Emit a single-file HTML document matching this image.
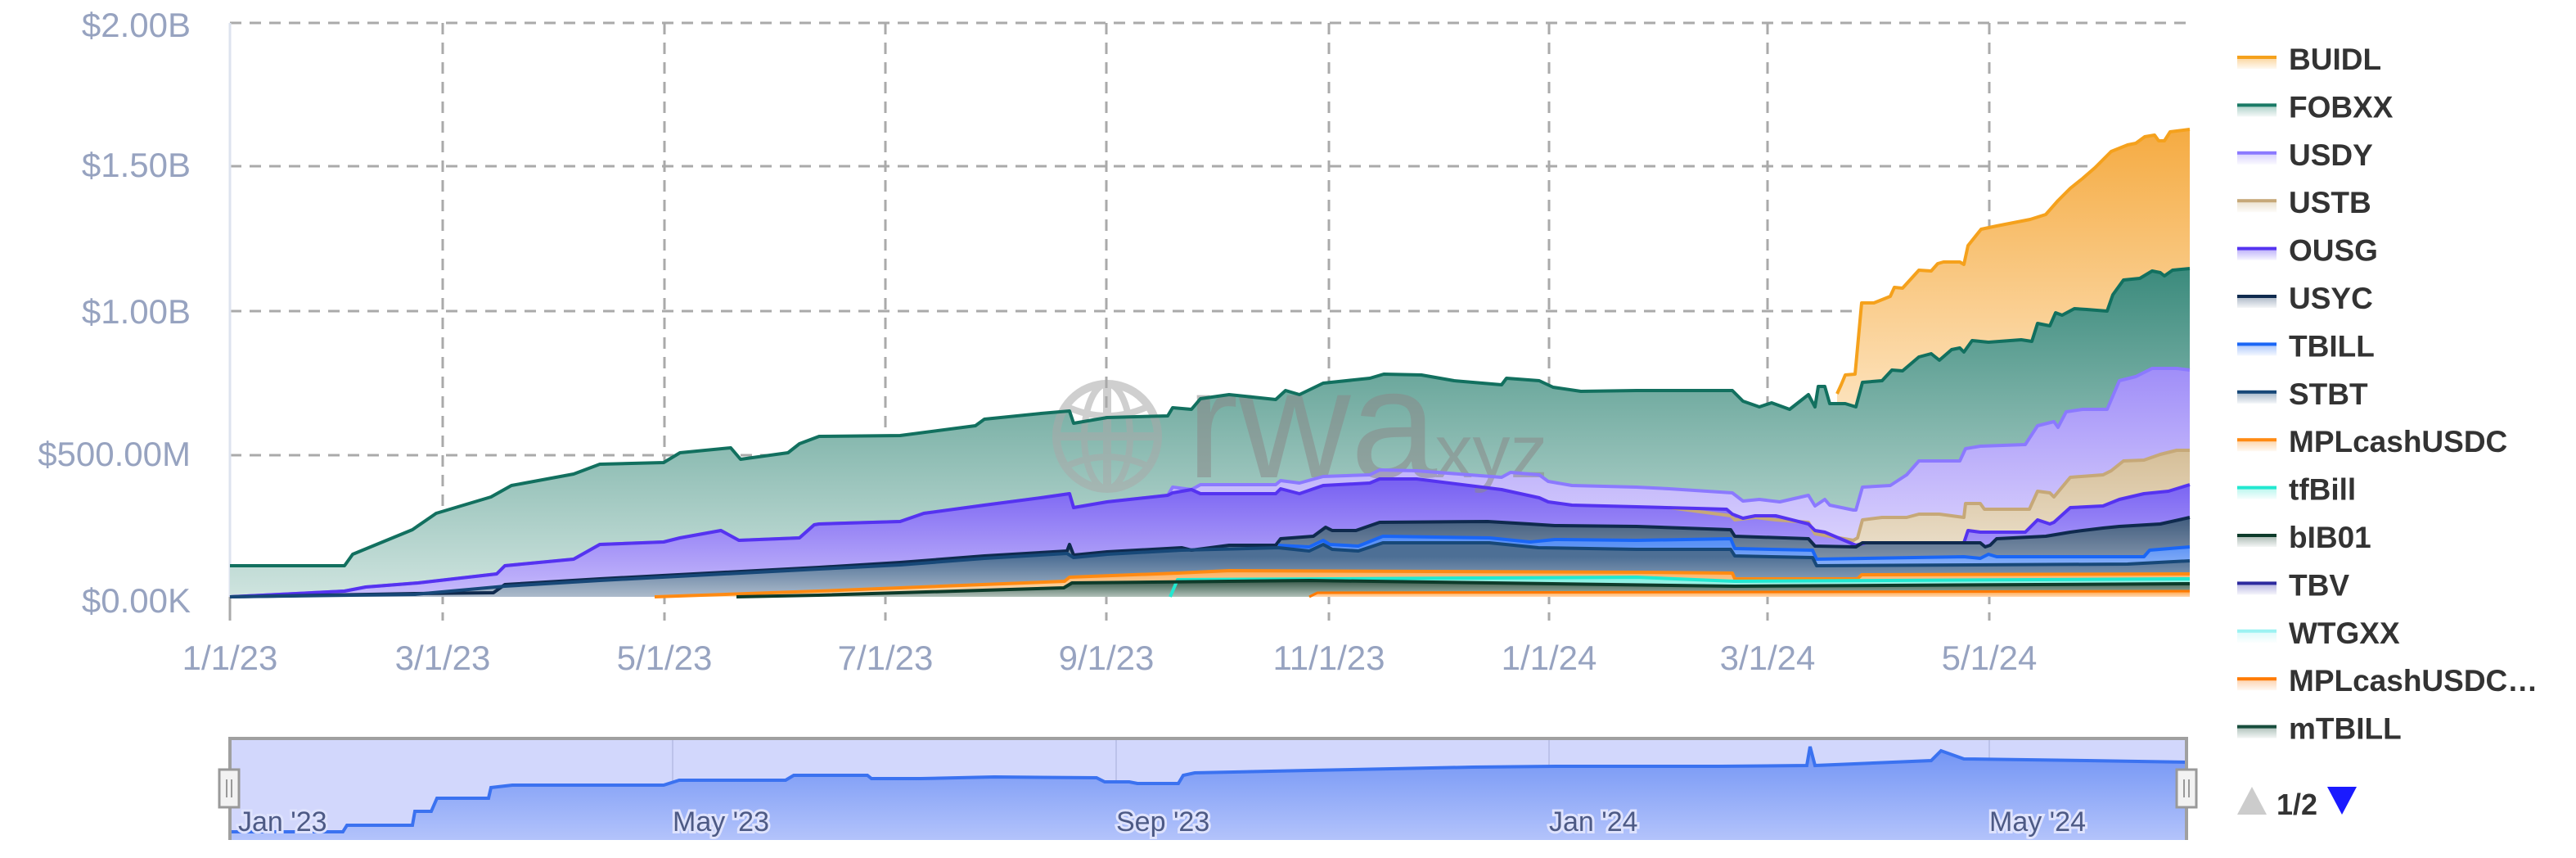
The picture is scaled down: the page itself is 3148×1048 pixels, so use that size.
<!DOCTYPE html>
<html><head><meta charset="utf-8">
<style>
html,body{margin:0;padding:0;background:#fff;}
svg{display:block;}
</style></head>
<body>
<svg id="s" width="3148" height="1048" viewBox="0 0 3148 1048" xmlns="http://www.w3.org/2000/svg" font-family="Liberation Sans, sans-serif">
<defs id="d"></defs>
<g id="grid"></g>
<g id="areas"></g>
<g id="wm" opacity="0.55">
  <ellipse cx="1353" cy="533" rx="62" ry="64" fill="none" stroke="#a9a9a9" stroke-width="10"/>
  <line x1="1353" y1="469" x2="1353" y2="597" stroke="#a9a9a9" stroke-width="10"/>
  <line x1="1291" y1="533" x2="1415" y2="533" stroke="#a9a9a9" stroke-width="10"/>
  <ellipse cx="1353" cy="533" rx="28" ry="64" fill="none" stroke="#a9a9a9" stroke-width="8"/>
  <path d="M1302 496 Q1353 520 1404 496 M1302 570 Q1353 546 1404 570" fill="none" stroke="#a9a9a9" stroke-width="8"/>
  <text x="1450" y="583" font-size="190" fill="#8a8a8a">rwa</text>
  <text x="1728" y="583" font-size="92" fill="#8a8a8a">.xyz</text>
</g>
<g id="lines"></g>
<g id="axis" fill="#97a3c0" font-size="42"></g>
<g id="nav"></g>
<g id="legend"></g>
</svg>
<script>
var NS="http://www.w3.org/2000/svg";
function el(t,a,p,txt){var e=document.createElementNS(NS,t);for(var k in a)e.setAttribute(k,a[k]);if(txt!==undefined)e.textContent=txt;(p||document.getElementById('s')).appendChild(e);return e;}
var D=document.getElementById('d'),G=document.getElementById('grid'),A=document.getElementById('areas'),L=document.getElementById('lines'),AX=document.getElementById('axis'),N=document.getElementById('nav'),LG=document.getElementById('legend');
var X0=281,X1=2676,Y0=729;
// grid
[28,203,380,556].forEach(function(y){el('line',{x1:X0,y1:y,x2:X1,y2:y,stroke:'#aaa','stroke-width':3,'stroke-dasharray':'14 10'},G);});
var xt=[[281,'1/1/23'],[541,'3/1/23'],[812,'5/1/23'],[1082,'7/1/23'],[1352,'9/1/23'],[1624,'11/1/23'],[1893,'1/1/24'],[2160,'3/1/24'],[2431,'5/1/24']];
xt.forEach(function(t,i){ if(i>0) el('line',{x1:t[0],y1:28,x2:t[0],y2:758,stroke:'#aaa','stroke-width':3,'stroke-dasharray':'14 10'},G);
 else el('line',{x1:t[0],y1:729,x2:t[0],y2:758,stroke:'#aaa','stroke-width':3},G);
 el('text',{x:t[0],y:818,'text-anchor':'middle'},AX,t[1]);});
el('line',{x1:281,y1:28,x2:281,y2:729,stroke:'#dde3ef','stroke-width':3},G);
[[45,'$2.00B'],[216,'$1.50B'],[395,'$1.00B'],[569,'$500.00M'],[748,'$0.00K']].forEach(function(t){el('text',{x:233,y:t[0],'text-anchor':'end'},AX,t[1]);});

function grad(id,y1,y2,c1,c2){var g=el('linearGradient',{id:id,gradientUnits:'userSpaceOnUse',x1:0,y1:y1,x2:0,y2:y2},D);el('stop',{offset:0,'stop-color':c1},g);el('stop',{offset:1,'stop-color':c2},g);}
function series(pts,id,stroke,y1,y2,c1,c2,sw){
 grad(id,y1,y2,c1,c2);
 var d='M'+pts[0][0]+' '+Y0+' '+pts.map(function(p){return 'L'+p[0]+' '+p[1];}).join(' ')+' L'+pts[pts.length-1][0]+' '+Y0+' Z';
 el('path',{d:d,fill:'url(#'+id+')'},A);
 el('path',{d:'M'+pts.map(function(p){return p[0]+' '+p[1];}).join(' L'),fill:'none',stroke:stroke,'stroke-width':sw||4,'stroke-linejoin':'round'},L);
}
var BUIDL=[[2245,481],[2250,470],[2255,458],[2267,457],[2275,370],[2290,370],[2300,366],[2310,362],[2315,351],[2325,352],[2345,330],[2360,331],[2368,322],[2375,320],[2395,320],[2400,323],[2405,300],[2421,280],[2440,276],[2481,268],[2500,262],[2515,245],[2530,230],[2545,218],[2560,205],[2580,185],[2600,177],[2610,175],[2621,167],[2633,165],[2638,172],[2645,172],[2652,161],[2676,158]];
var FOBXX=[[281,691],[421,691],[431,677],[504,647],[533,627],[600,607],[625,593],[701,579],[733,567],[811,565],[831,553],[893,547],[905,561],[963,553],[977,542],[1001,533],[1100,532],[1192,520],[1203,512],[1272,505],[1307,502],[1312,517],[1353,510],[1427,508],[1433,498],[1456,500],[1467,487],[1502,482],[1559,488],[1571,477],[1588,482],[1617,468],[1674,462],[1691,457],[1737,458],[1777,465],[1835,470],[1841,462],[1881,465],[1898,473],[1932,478],[2000,477],[2117,477],[2130,490],[2150,497],[2165,492],[2187,500],[2210,482],[2218,497],[2222,472],[2230,472],[2236,493],[2255,493],[2268,497],[2276,467],[2300,465],[2312,452],[2325,453],[2345,436],[2360,432],[2370,440],[2385,427],[2395,425],[2400,430],[2410,416],[2430,418],[2470,415],[2483,417],[2490,395],[2505,398],[2512,382],[2520,385],[2535,377],[2550,378],[2575,380],[2582,360],[2595,342],[2615,340],[2630,331],[2640,333],[2645,337],[2655,330],[2676,328]];
var OUSGL=[[281,729],[421,722],[447,717],[511,712],[607,701],[617,691],[701,683],[733,665],[811,662],[831,657],[881,648],[903,660],[977,657],[995,641],[1001,640],[1100,637],[1129,627],[1203,617],[1272,608],[1307,603],[1312,620],[1353,613],[1427,605]];
var USDY=OUSGL.concat([[1433,595],[1456,598],[1467,592],[1559,592],[1565,587],[1588,590],[1617,582],[1674,580],[1686,574],[1731,575],[1835,583],[1846,577],[1881,580],[1892,588],[1921,593],[2000,595],[2040,597],[2117,602],[2130,612],[2150,610],[2175,613],[2210,605],[2218,618],[2230,610],[2236,617],[2265,623],[2268,623],[2276,595],[2310,593],[2330,580],[2345,563],[2395,563],[2402,548],[2420,545],[2475,543],[2490,520],[2510,515],[2515,522],[2525,503],[2545,500],[2575,500],[2590,465],[2610,460],[2630,450],[2660,450],[2676,452]]);
var OUSG=OUSGL.concat([[1433,602],[1456,598],[1467,603],[1559,603],[1565,597],[1588,603],[1617,593],[1674,590],[1686,585],[1731,585],[1835,598],[1881,608],[1892,613],[1921,617],[2000,619],[2110,622],[2117,628],[2130,633],[2145,630],[2170,630],[2210,640],[2218,648],[2230,650],[2268,666],[2280,663],[2400,663],[2405,648],[2420,650],[2475,650],[2490,635],[2505,640],[2510,638],[2530,620],[2570,618],[2590,610],[2620,603],[2650,600],[2676,592]]);
var USTB=[[2040,620],[2115,630],[2120,635],[2145,632],[2170,635],[2210,638],[2218,652],[2236,655],[2265,660],[2270,657],[2276,635],[2300,632],[2330,632],[2345,628],[2370,628],[2400,632],[2402,615],[2420,615],[2425,622],[2480,622],[2490,600],[2505,602],[2510,607],[2520,595],[2530,583],[2570,580],[2580,575],[2595,563],[2620,562],[2640,555],[2660,550],[2676,550]];
var USYC=[[281,729],[507,725],[603,724],[617,714],[733,707],[1001,693],[1100,687],[1203,679],[1304,673],[1307,665],[1312,678],[1353,674],[1444,669],[1456,672],[1502,666],[1559,666],[1565,658],[1605,655],[1620,644],[1628,648],[1657,648],[1686,638],[1818,637],[1869,640],[1900,642],[2000,643],[2115,647],[2120,655],[2210,658],[2218,667],[2268,668],[2276,663],[2420,663],[2426,668],[2432,666],[2440,658],[2500,655],[2530,650],[2545,648],[2570,645],[2590,643],[2640,640],[2676,632]];
var TBILL=[[1562,666],[1600,668],[1617,660],[1625,665],[1660,667],[1690,655],[1820,657],[1870,662],[1900,659],[2000,660],[2115,658],[2120,670],[2215,672],[2220,683],[2400,680],[2420,682],[2430,677],[2440,680],[2620,680],[2627,672],[2676,668]];
var STBT=[[281,729],[507,726],[617,716],[733,709],[1001,695],[1100,690],[1203,682],[1304,676],[1312,681],[1353,677],[1444,672],[1562,669],[1600,673],[1617,665],[1628,671],[1660,673],[1690,663],[1820,663],[1880,669],[2000,671],[2115,671],[2120,679],[2215,681],[2220,691],[2600,689],[2676,685]];
var MPL=[[800,729],[1000,722],[1100,718],[1301,710],[1307,705],[1439,700],[1502,697],[2000,699],[2117,700],[2120,707],[2270,707],[2275,702],[2676,701]];
var TF=[[1430,729],[1439,708],[2000,705],[2120,710],[2676,707]];
var BIB=[[900,729],[1000,727],[1300,718],[1310,712],[1600,709],[2120,716],[2676,713]];
var LOW=[[1600,729],[1610,724],[2676,722]];
series(BUIDL,'gB','#f5a11c',158,520,'#f5ab42','#fde6c4');
series(FOBXX,'gF','#12705f',330,729,'#3c8b7d','#cfe4df');
series(USDY,'gU','#8b79ff',450,729,'#a08ef8','#ebe6fe');
series(USTB,'gT','#c6a878',550,729,'#d6bf98','#f3ece0');
series(OUSG,'gO','#5533f0',585,729,'#7760f2','#c8bcfb');
series(USYC,'gY','#0f2a4e',630,729,'#3e5a7c','#b9c3d0');
series(TBILL,'gI','#1a66f5',665,729,'#5b92f5','#c8dafb');
series(STBT,'gS','#174878',680,729,'#4d6f95','#adbbcb');
series(MPL,'gM','#ff8a12',697,729,'#fbb062','#fde2c0');
series(TF,'gC','#22e8d0',705,729,'#7ff0e0','#d0f8f2');
series(BIB,'gD','#0d3b2a',710,729,'#3d5e4f','#b0c0b8');
series(LOW,'gL','#ff7a00',722,729,'#ffa040','#ffd8b0',3);
// navigator
el('rect',{x:281,y:902,width:2391,height:124,fill:'#d2d7fc'},N);
[822,1364,1893,2431].forEach(function(x){el('line',{x1:x,y1:902,x2:x,y2:1026,stroke:'#bcc2ea','stroke-width':2},N);});
var nv=[[283,1016],[419,1016],[424,1008],[504,1008],[507,991],[527,991],[534,975],[597,975],[600,962],[626,959],[811,959],[830,953],[960,953],[970,947],[1060,947],[1065,951],[1125,951],[1215,949],[1340,950],[1350,955],[1380,955],[1390,957],[1440,957],[1446,947],[1460,944],[1600,941],[1700,939],[1800,937],[1900,936],[2100,936],[2208,935],[2212,912],[2218,935],[2360,929],[2372,917],[2400,927],[2550,929],[2672,931]];
grad('gN',910,1026,'#6f92f4','#b3c3fb');
el('path',{d:'M283 1026 L'+nv.map(function(p){return p.join(' ');}).join(' L')+' L2672 1026 Z',fill:'url(#gN)'},N);
el('path',{d:'M'+nv.map(function(p){return p.join(' ');}).join(' L'),fill:'none',stroke:'#3b72f0','stroke-width':4},N);
el('path',{d:'M281 1026 L281 902 L2672 902 L2672 1026',fill:'none',stroke:'#a0a0a0','stroke-width':4},N);
[[291,"Jan '23"],[822,"May '23"],[1364,"Sep '23"],[1893,"Jan '24"],[2431,"May '24"]].forEach(function(t){
 el('text',{x:t[0],y:1015,'font-size':34,fill:'#4d5a85',stroke:'#dfe3fd','stroke-width':6,'paint-order':'stroke'},N,t[1]);});
[268,2660].forEach(function(x){el('rect',{x:x,y:940,width:24,height:46,fill:'#f2f2f2',stroke:'#999','stroke-width':3},N);
 el('line',{x1:x+9,y1:952,x2:x+9,y2:974,stroke:'#999','stroke-width':2},N);el('line',{x1:x+15,y1:952,x2:x+15,y2:974,stroke:'#999','stroke-width':2},N);});
// legend
var lg=[['BUIDL','#f5a11c','#fbd49a'],['FOBXX','#1a7a66','#a9cfc6'],['USDY','#8b79ff','#d6cffd'],['USTB','#c6a878','#eadfcc'],['OUSG','#5533f0','#b9acfa'],['USYC','#0f2a4e','#a8b4c4'],['TBILL','#1a66f5','#a9c6fb'],['STBT','#174878','#a3b5c8'],['MPLcashUSDC','#ff8a12','#fdd3a5'],['tfBill','#22e8d0','#b6f6ee'],['bIB01','#0d3b2a','#a7b7af'],['TBV','#2d2a9e','#b4b2e0'],['WTGXX','#9cf2f2','#dcfafa'],['MPLcashUSDC…','#ff7a00','#fdd0a8'],['mTBILL','#184d3d','#a9bdb6']];
lg.forEach(function(e,i){var y=72+i*58.4;
 grad('lg'+i,y-2,y+14,e[2],'#ffffff');
 el('rect',{x:2734,y:y-2,width:48,height:14,fill:'url(#lg'+i+')'},LG);
 el('rect',{x:2734,y:y-4,width:48,height:4,fill:e[1]},LG);
 el('text',{x:2797,y:y+13,'font-size':37,'font-weight':'bold',fill:'#333'},LG,e[0]);});
el('polygon',{points:'2734,995 2752,961 2770,995',fill:'#cccccc'},LG);
el('text',{x:2782,y:995,'font-size':36,'font-weight':'bold',fill:'#333'},LG,'1/2');
el('polygon',{points:'2844,961 2880,961 2862,995',fill:'#1a1aff'},LG);
</script>
</body></html>
